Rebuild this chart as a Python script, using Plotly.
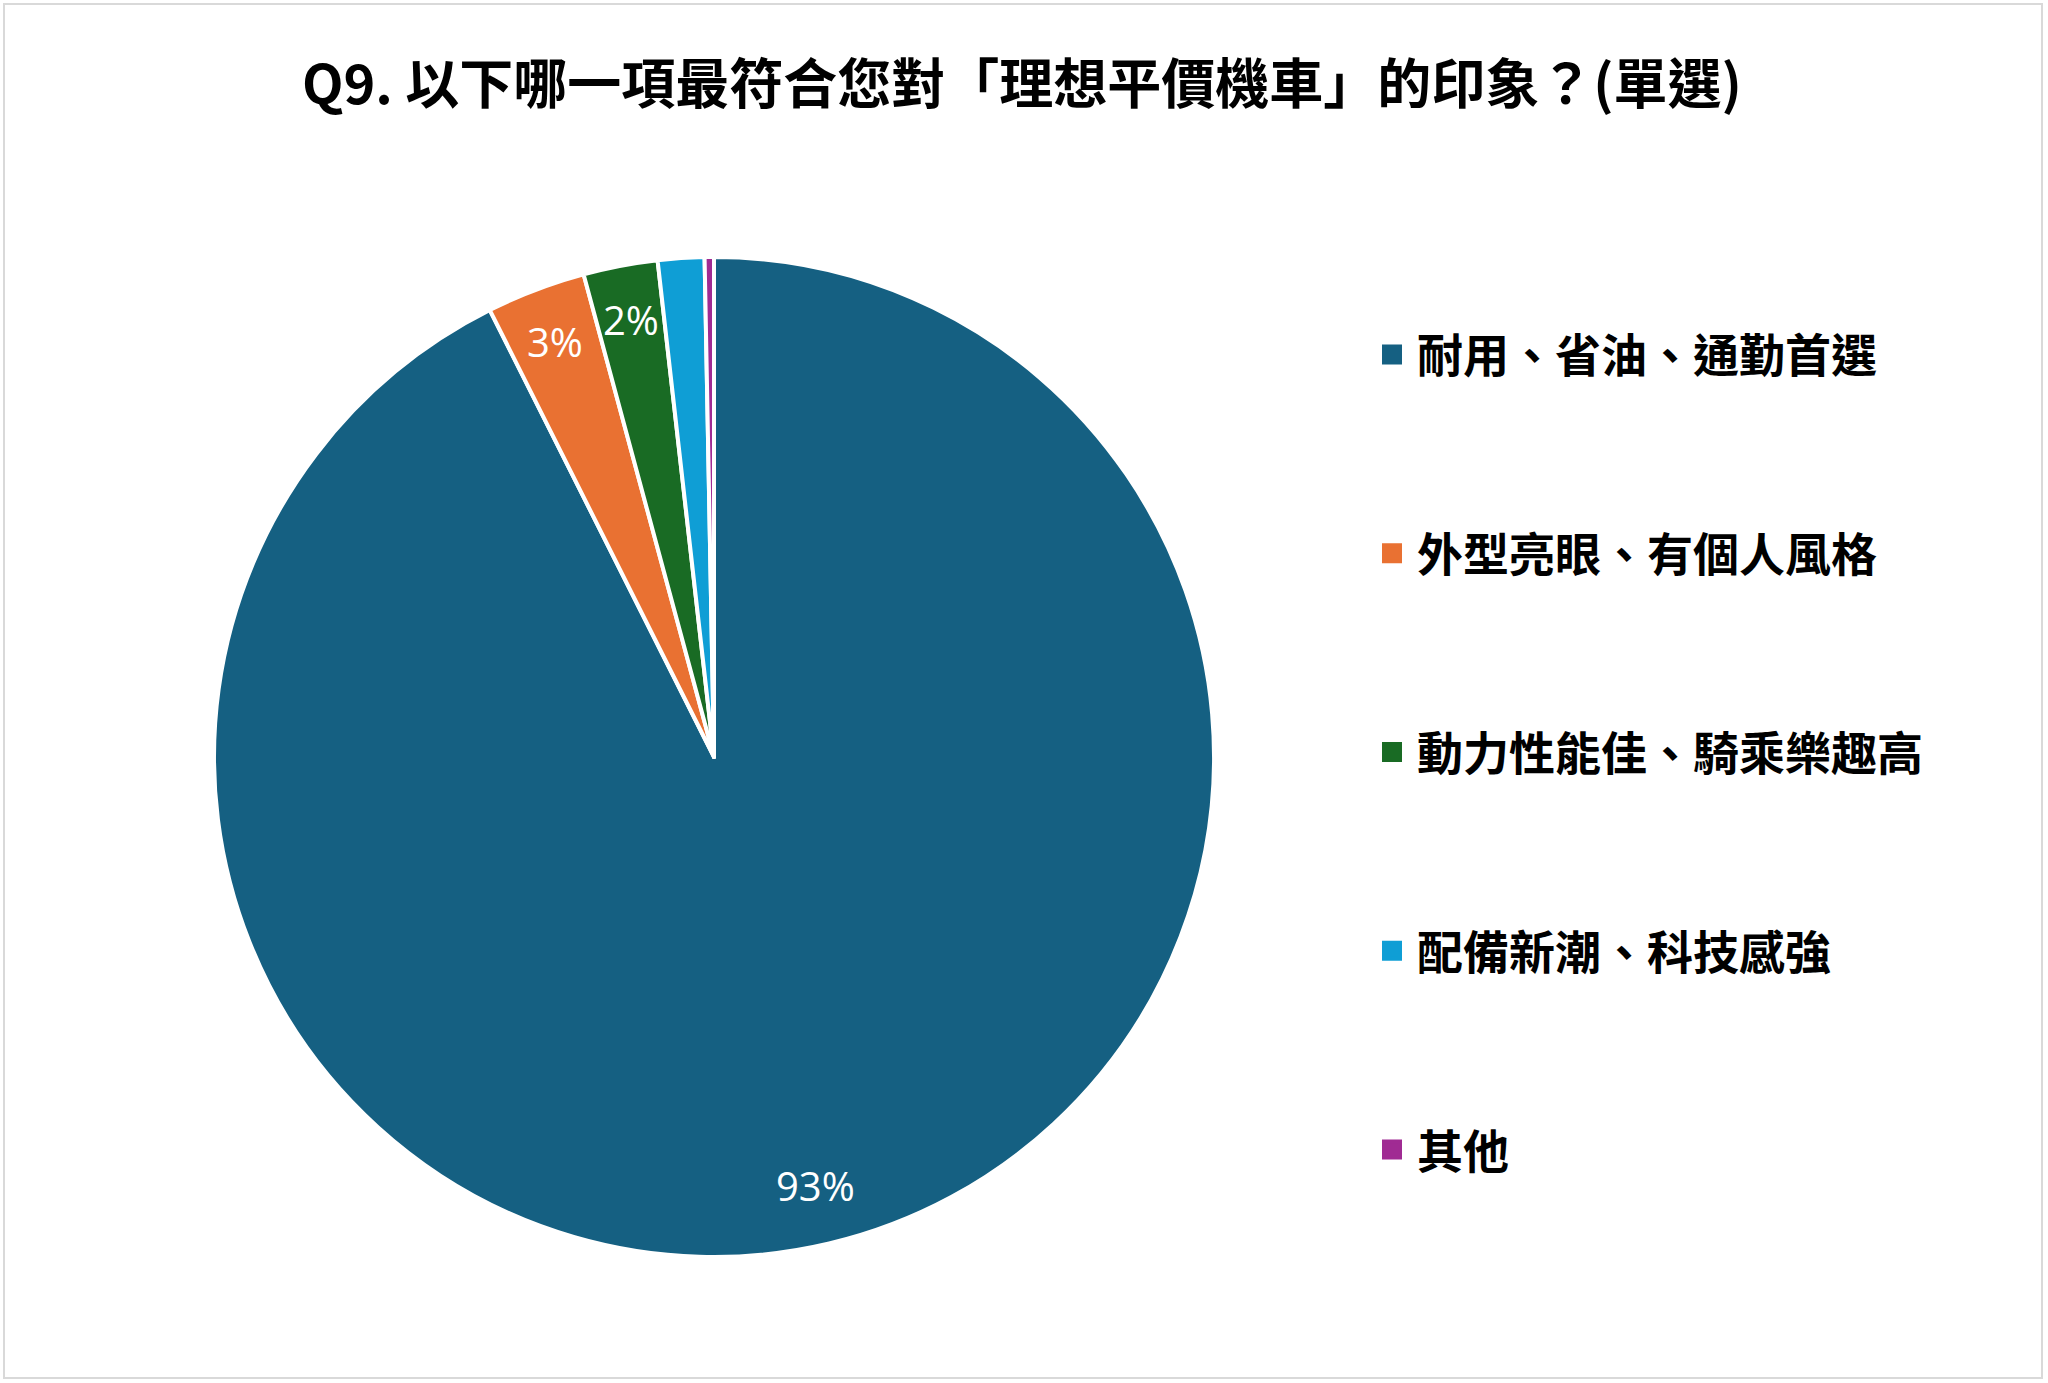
import math
import plotly.graph_objects as go

# ---- data ----
categories = ["耐用、省油、通勤首選", "外型亮眼、有個人風格", "動力性能佳、騎乘樂趣高", "配備新潮、科技感強", "其他"]
shares = [92.6, 3.2, 2.4, 1.5, 0.3]
show_label = [True, True, True, False, False]
colors = ["#156082", "#E97132", "#196B24", "#0F9ED5", "#A02B93"]
title_text = "Q9. 以下哪一項最符合您對「理想平價機車」的印象？(單選)"

W, H = 2048, 1383
CJK = "Noto Sans CJK TC"

# pie placement (pixels)
CX, CY, R = 714, 757, 500

fig = go.Figure()
fig.add_trace(go.Pie(
    labels=categories,
    values=shares,
    sort=False,
    direction="clockwise",
    rotation=0,
    marker=dict(colors=colors, line=dict(color="white", width=4)),
    textinfo="none",
    domain=dict(x=[(CX - R) / W, (CX + R) / W], y=[(H - CY - R) / H, (H - CY + R) / H]),
    showlegend=False,
    hoverinfo="label+percent",
))

# data labels: placed along each slice's mid-angle (derived from the data)
total = sum(shares)
annotations = []
cum = 0.0
for val, show in zip(shares, show_label):
    mid = (cum + val / 2) / total * 2 * math.pi  # clockwise from 12 o'clock
    cum += val
    if not show:
        continue
    rr = (0.88 if val / total > 0.5 else 0.89) * R
    px = CX + rr * math.sin(mid)
    py = CY - rr * math.cos(mid)
    annotations.append(dict(
        x=px / W, y=1 - py / H, xref="paper", yref="paper",
        text=f"{round(val / total * 100):d}%", showarrow=False,
        font=dict(family="Open Sans", size=40, color="white"),
        xanchor="center", yanchor="middle",
    ))

# legend entries (one per category)
for i, (cat, col) in enumerate(zip(categories, colors)):
    fig.add_trace(go.Scatter(
        x=[None], y=[None], mode="markers", name=cat,
        marker=dict(symbol="square", size=16, color=col, line=dict(width=4, color=col)),
        legendgroup=f"g{i}", showlegend=True, hoverinfo="skip",
    ))

fig.update_layout(
    width=W, height=H,
    margin=dict(l=0, r=0, t=0, b=0),
    paper_bgcolor="white", plot_bgcolor="white",
    title=dict(text=title_text, x=0.499, xanchor="center", y=1 - 85 / H, yanchor="middle",
               font=dict(family=CJK, size=54, color="#000000", weight="bold")),
    xaxis=dict(visible=False), yaxis=dict(visible=False),
    legend=dict(x=1367 / W, xanchor="left", y=1 - 318 / H, yanchor="top",
                font=dict(family=CJK, size=46, color="#000000", weight="bold"),
                tracegroupgap=136, itemwidth=40, bgcolor="rgba(0,0,0,0)", itemclick=False),
    annotations=annotations,
    shapes=[dict(type="rect", xref="paper", yref="paper",
                 x0=4 / W, x1=2042 / W, y0=1 - 1378 / H, y1=1 - 4 / H,
                 line=dict(color="#D9D9D9", width=2), fillcolor="rgba(0,0,0,0)", layer="below")],
)

fig.write_html("out.html", config={"displayModeBar": False},
               post_script="document.body.style.margin='0';document.body.style.overflow='hidden';")
